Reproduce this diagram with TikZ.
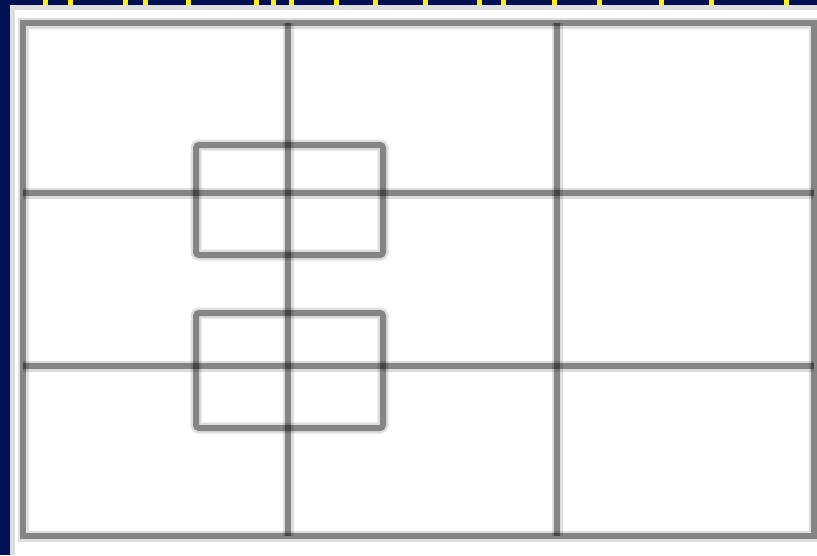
\documentclass[tikz,border=0pt]{standalone}
\definecolor{navy}{RGB}{0,16,82}
\definecolor{panel}{RGB}{221,221,221}
\begin{document}
\begin{tikzpicture}[x=1pt,y=-1pt]
    \tikzstyle{halo}=[draw=black, draw opacity=0.13, line width=11pt]
    \tikzstyle{gridline}=[draw=black, draw opacity=0.4, line width=6pt]
    \useasboundingbox (0,0) rectangle (817,555);
    % background and panel
    \fill [navy] (0,0) rectangle (817,555);
    \fill [panel] (10,5) rectangle (817,555);
    \fill [white] (15,10) rectangle (817,555);
    % yellow marks along the top
    \foreach \x in {45,70,125,145,188,256,273,291,336,375,425,479,503,554,599,661,711,786}
      \fill [yellow] (\x-2.5,0) rectangle (\x+2.5,5);
    % soft edges first
    \draw [halo] (23,23) rectangle (814,536);
    \draw [halo] (288,23) -- (288,536);
    \draw [halo] (557,23) -- (557,536);
    \draw [halo] (23,193) -- (814,193);
    \draw [halo] (23,366) -- (814,366);
    \draw [halo, rounded corners=3pt] (196,145) rectangle (383,255);
    \draw [halo, rounded corners=3pt] (196,313) rectangle (383,428);
    % outer frame
    \draw [gridline] (23,23) rectangle (814,536);
    % grid
    \draw [gridline] (288,23) -- (288,536);
    \draw [gridline] (557,23) -- (557,536);
    \draw [gridline] (23,193) -- (814,193);
    \draw [gridline] (23,366) -- (814,366);
    % the two boxes
    \draw [gridline, rounded corners=3pt] (196,145) rectangle (383,255);
    \draw [gridline, rounded corners=3pt] (196,313) rectangle (383,428);
\end{tikzpicture}
\end{document}
